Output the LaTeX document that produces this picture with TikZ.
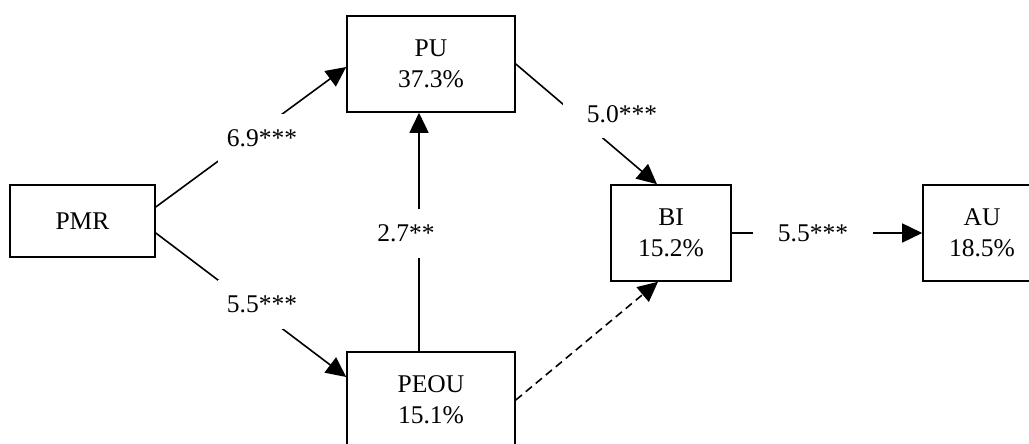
\documentclass[tikz,border=0pt]{standalone}
\usepackage{fontspec}
\setmainfont{Liberation Serif}
\usetikzlibrary{arrows.meta}
\begin{document}
\begin{tikzpicture}[x=1pt,y=1pt,
  every node/.style={font=\fontsize{25.5}{31}\selectfont},
  box/.style={draw, line width=1.6pt, rectangle, inner sep=0pt, align=center, minimum height=96pt},
  conn/.style={line width=1.6pt, -{Triangle[length=20pt,width=19pt]}},
  lbl/.style={fill=white, anchor=base, inner xsep=9pt, inner ysep=16pt}]
\useasboundingbox (0,0) rectangle (1029,444);
\clip (0,0) rectangle (1029,444);
\node[box, minimum width=145pt, minimum height=72pt] (PMR) at (82.5,223) {PMR};
\node[box, minimum width=168pt] (PU) at (431,380) {PU\\37.3\%};
\node[box, minimum width=168pt] (PEOU) at (431,44) {PEOU\\15.1\%};
\node[box, minimum width=120pt] (BI) at (671,211) {BI\\15.2\%};
\node[box, minimum width=118pt] (AU) at (982,211) {AU\\18.5\%};
\draw[conn] ([yshift=14pt]PMR.east) -- ([yshift=-3pt]PU.west);
\draw[conn] ([yshift=-12pt]PMR.east) -- ([yshift=23pt]PEOU.west);
\draw[conn] ([xshift=-12pt]PEOU.north) -- ([xshift=-12pt]PU.south);
\draw[conn] (PU.east) -- ([xshift=-14pt]BI.north);
\draw[conn, dash pattern=on 8pt off 5pt] (PEOU.east) -- ([xshift=-13pt]BI.south);
\draw[conn] (BI.east) -- (AU.west);
\node[lbl] (l1) at (262,297) {6.9***};
\node[lbl] (l2) at (262,131) {5.5***};
\node[lbl] (l3) at (406,202) {2.7**};
\node[lbl, inner xsep=24pt, inner ysep=15pt] (l4) at (622,321) {5.0***};
\node[lbl, inner xsep=25pt] (l5) at (813,202) {5.5***};
\end{tikzpicture}
\end{document}
